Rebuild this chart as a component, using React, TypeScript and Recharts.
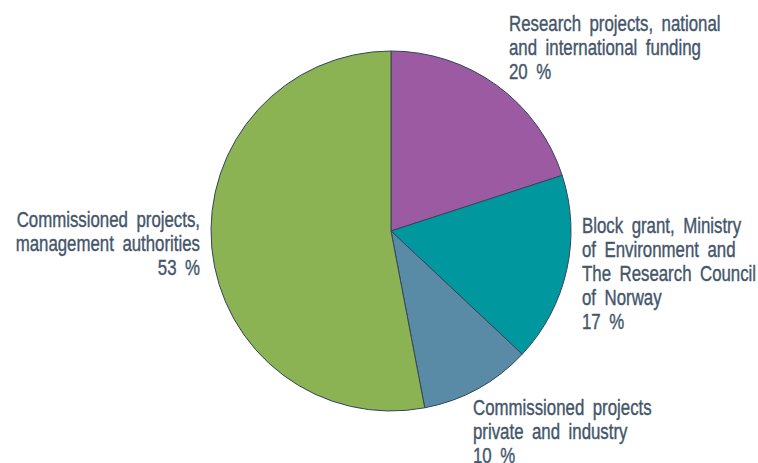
import { Cell, Pie, PieChart } from 'recharts';

const categories = [
  'Research projects, national|and international funding',
  'Block grant, Ministry|of Environment and|The Research Council|of Norway',
  'Commissioned projects|private and industry',
  'Commissioned projects,|management authorities',
];
const shares = [20, 17, 10, 53];
const COLORS = ['#9b5aa1', '#00979e', '#5a8ba6', '#8bb253'];

// label anchor offsets from the pie centre (first baseline)
const LABEL_LAYOUT = [
  { dx: 118, dy: -200, anchor: 'start' },
  { dx: 191, dy: 2, anchor: 'start' },
  { dx: 82, dy: 184, anchor: 'start' },
  { dx: -191, dy: -4, anchor: 'end' },
];

const data = categories.map((name, i) => ({ name, value: shares[i] }));

const TEXT = '#44566a';
const LINE_H = 24;

function renderLabel(props: any) {
  const { cx, cy, index } = props;
  const lay = LABEL_LAYOUT[index];
  const lines = [...categories[index].split('|'), `${shares[index]} %`];
  return (
    <g key={index} transform={`translate(${cx + lay.dx},${cy + lay.dy}) scale(0.765,1)`}>
      <text
        x={0}
        y={0}
        textAnchor={lay.anchor}
        fill={TEXT}
        stroke={TEXT}
        strokeWidth={0.4}
        fontSize={22}
        style={{ fontFamily: '"Liberation Sans", Arial, sans-serif', wordSpacing: 5 }}
      >
        {lines.map((l, j) => (
          <tspan key={j} x={0} dy={j === 0 ? 0 : LINE_H}>
            {l}
          </tspan>
        ))}
      </text>
    </g>
  );
}

export default function App() {
  return (
    <div style={{ position: 'fixed', left: 0, top: 0, background: '#fff' }}>
      <PieChart width={758} height={463} margin={{ top: 0, right: 0, bottom: 0, left: 0 }}>
        <Pie
          data={data}
          dataKey="value"
          cx={391}
          cy={231}
          outerRadius={180}
          startAngle={90}
          endAngle={-270}
          stroke="#34475a"
          strokeWidth={1}
          label={renderLabel}
          labelLine={false}
          isAnimationActive={false}
        >
          {data.map((d, i) => (
            <Cell key={d.name} fill={COLORS[i]} />
          ))}
        </Pie>
      </PieChart>
    </div>
  );
}
